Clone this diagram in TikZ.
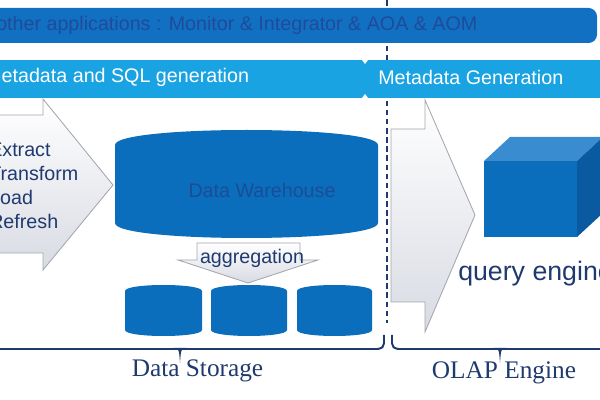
\documentclass[tikz,border=0pt]{standalone}
\usepackage{fontspec}
\setmainfont{Liberation Serif}
\setsansfont{Liberation Sans}
\usepackage{tikz}

\definecolor{appblue}{HTML}{1270C2}
\definecolor{apptext}{HTML}{1E4C9A}
\definecolor{barcyan}{HTML}{19A3E3}
\definecolor{dbblue}{HTML}{0A6EBD}
\definecolor{dbtext}{HTML}{1B4D95}
\definecolor{navy}{HTML}{1F3A6E}
\definecolor{arrowline}{HTML}{A4A6AE}
\definecolor{arrowfill}{HTML}{D8DBE3}
\definecolor{cubetop}{HTML}{3A8CD0}
\definecolor{cubeside}{HTML}{0A5AA2}

% drum: left, right, top, bottom, bulge
\newcommand{\drum}[5]{%
  \fill[dbblue] (#1,#3+#5) .. controls (#1,#3-#5/3) and (#2,#3-#5/3) .. (#2,#3+#5)
    -- (#2,#4-#5) .. controls (#2,#4+#5/3) and (#1,#4+#5/3) .. (#1,#4-#5) -- cycle;}

\begin{document}
\begin{tikzpicture}[x=0.025cm, y=-0.025cm,
    txt/.style={inner sep=0pt, font=\sffamily\fontsize{14}{16}\selectfont},
    bigarrow/.style={draw=arrowline, line width=0.6pt, top color=white, bottom color=arrowfill},
    brace/.style={draw=navy, line width=1.4pt, rounded corners=4pt}]
    \useasboundingbox (0,0) rectangle (600,400);
    \clip (0,0) rectangle (600,400);

    % Dashed split line
    \draw[navy, line width=0.9pt, dash pattern=on 4pt off 2.5pt] (387,0) -- (387,323);

    % Top bar
    \fill[appblue, rounded corners=6pt] (-20,8) rectangle (597,43);
    \node[txt, apptext, anchor=west] (apps) at (-4,25.5)
        {other applications : Monitor \& Integrator \& AOA \& AOM};

    % Metadata bar
    \fill[barcyan] (-20,60) rectangle (610,98);
    \fill[white] (362,60) -- (368,60) -- (365,64) -- cycle;
    \fill[white] (362,98) -- (368,98) -- (365,94) -- cycle;
    \node[txt, white, anchor=west] (sqlgen) at (-15,77) {Metadata and SQL generation};
    \node[txt, white, anchor=west] (metagen) at (378,77) {Metadata Generation};

    % ETL arrow
    \draw[bigarrow] (-5,115) -- (43,115) -- (43,99) -- (113,185) -- (43,270)
        -- (43,253) -- (-5,253) -- cycle;
    \foreach \w [count=\i] in {Extract,Transform,Load,Refresh} {
        \node[txt, navy, anchor=base west] (etl\i) at (-11,{157+23.7*(\i-1)}) {\w};
    }

    % Data warehouse
    \drum{115}{378}{130}{238}{15}
    \node[txt, dbtext] (dw) at (262,190) {Data Warehouse};

    % Aggregation arrow
    \draw[bigarrow] (197,243) -- (300,243) -- (300,260) -- (318,260) -- (248,283)
        -- (178,260) -- (197,260) -- cycle;
    \node[txt, navy] (agg) at (252,258) {aggregation};

    % Data marts
    \foreach \a/\b in {125/202, 211/287, 297/372} {
        \drum{\a}{\b}{285}{336}{6}
    }

    % Query arrow
    \draw[bigarrow] (391,129) -- (425,129) -- (425,100) -- (475,215) -- (425,332)
        -- (425,302) -- (391,302) -- cycle;

    % Cube
    \fill[dbblue] (484,161) rectangle (577,237);
    \fill[cubetop] (484,161) -- (510,137) -- (603,137) -- (577,161) -- cycle;
    \fill[cubeside] (577,161) -- (603,137) -- (603,213) -- (577,237) -- cycle;
    \node[txt, navy, font=\sffamily\fontsize{19}{22}\selectfont, anchor=base west]
        (query) at (458,281) {query engine};

    % Braces
    \draw[brace] (-5,349) -- (384,349) -- (384,335);
    \draw[brace] (392,335) -- (392,349) -- (610,349);
    \foreach \t in {180,500} {
        \fill[navy] (\t-6,348) .. controls (\t-1,349) .. (\t,363)
            .. controls (\t+1,349) .. (\t+6,348) -- cycle;
    }
    \node[inner sep=0pt, navy, font=\rmfamily\fontsize{18}{20}\selectfont, anchor=base]
        (storage) at (197.5,377) {Data Storage};
    \node[inner sep=0pt, navy, font=\rmfamily\fontsize{18}{20}\selectfont, anchor=base]
        (olap) at (504,378) {OLAP Engine};
\end{tikzpicture}
\end{document}
